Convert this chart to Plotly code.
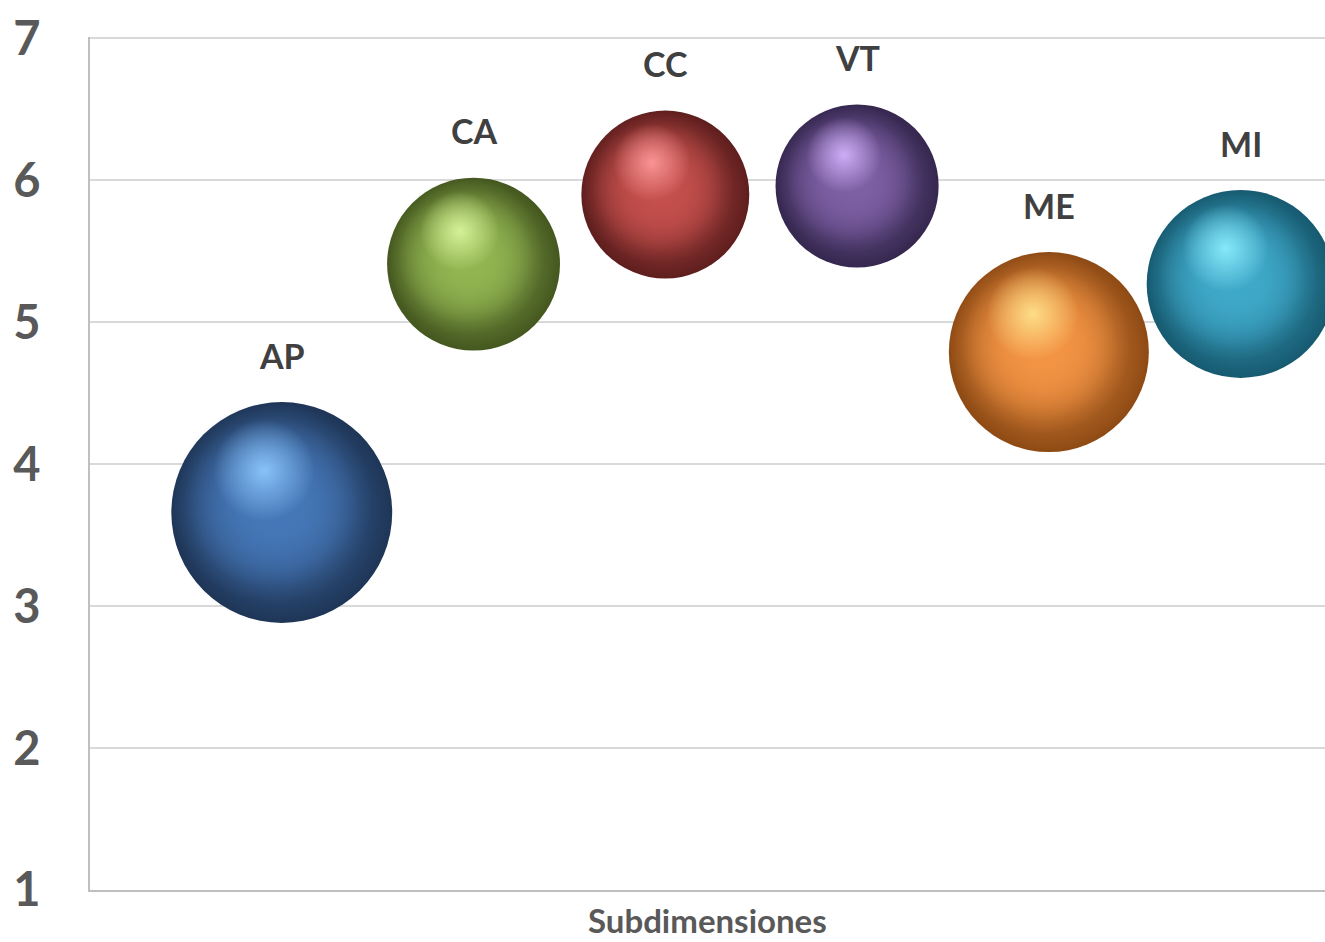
import numpy as np
import plotly.graph_objects as go

# ---- data ----
categories = ["AP", "CA", "CC", "VT", "ME", "MI"]
x_index = [1, 2, 3, 4, 5, 6]
means = [3.66, 5.41, 5.90, 5.96, 4.79, 5.27]
bubble_sizes = [4.88, 2.99, 2.82, 2.66, 4.00, 3.53]
y_ticks = [1, 2, 3, 4, 5, 6, 7]
x_title = "Subdimensiones"

# ---- styles ----
base_colors = ["#4577B8", "#92B551", "#C44F4C", "#7D5FA4", "#F39444", "#3FA9CA"]
edge_colors = ["#1E3556", "#44571F", "#5E1E1D", "#35274F", "#8E4A14", "#165A70"]
hl_colors = ["#8FCBFF", "#DDF8A0", "#FF9C9C", "#D6B6FF", "#FFE690", "#90F0FF"]

W, H = 1325, 942
M = dict(l=90, r=0, t=37, b=52)
x_range = [0, 6.44]
y_range = [1, 7.01]
px_x = (W - M["l"] - M["r"]) / (x_range[1] - x_range[0])
px_y = (H - M["t"] - M["b"]) / (y_range[1] - y_range[0])

diam = 100 * np.sqrt(np.array(bubble_sizes))
xs = np.array(x_index, dtype=float)
ys = np.array(means, dtype=float)


def rgba(h, a):
    h = h.lstrip("#")
    r, g, b = int(h[0:2], 16), int(h[2:4], 16), int(h[4:6], 16)
    return f"rgba({r},{g},{b},{a})"


fig = go.Figure()

# sphere body: base colour in the centre, dark toward the rim
fig.add_trace(go.Scatter(
    x=xs, y=ys, mode="markers", hoverinfo="skip",
    marker=dict(size=diam, sizemode="diameter", color=edge_colors,
                gradient=dict(type="radial", color=base_colors),
                line=dict(width=0), opacity=1),
    showlegend=False))

# lit face, shifted up-left so the shadow sits on the lower right
fx = xs - 0.045 * diam / px_x
fy = ys + 0.045 * diam / px_y
for frac in (0.91, 0.78):
    fig.add_trace(go.Scatter(
        x=fx, y=fy, mode="markers", hoverinfo="skip",
        marker=dict(size=diam * frac, color=[rgba(c, 0) for c in base_colors],
                    gradient=dict(type="radial", color=base_colors),
                    line=dict(width=0), opacity=1),
        showlegend=False))

# specular highlight, offset up-left
hx = xs - 0.08 * diam / px_x
hy = ys + 0.19 * diam / px_y
fig.add_trace(go.Scatter(
    x=hx, y=hy, mode="markers", hoverinfo="skip",
    marker=dict(size=diam * 0.46, color=[rgba(c, 0) for c in hl_colors],
                gradient=dict(type="radial", color=[rgba(c, 0.9) for c in hl_colors]),
                line=dict(width=0), opacity=1),
    showlegend=False))

# labels above the bubbles
for xi, yi, d, lab in zip(x_index, means, diam, categories):
    fig.add_annotation(x=xi, y=yi, text=f"<b>{lab}</b>", showarrow=False,
                       yshift=d / 2 + 47, yanchor="middle", xanchor="center",
                       font=dict(family="Lato", size=34, color="#404040"))

# x-axis title, resting on the bottom edge of the page
fig.add_annotation(x=0.5, y=0, xref="paper", yref="paper", text=f"<b>{x_title}</b>",
                   showarrow=False, yshift=-(M["b"] - 1), yanchor="bottom", xanchor="center",
                   borderpad=0,
                   font=dict(family="Lato", size=33, color="#595959"))

fig.update_layout(
    width=W, height=H, margin=M,
    paper_bgcolor="white", plot_bgcolor="white",
    showlegend=False,
    font=dict(family="Lato"),
)
fig.update_xaxes(
    range=x_range, showgrid=False, zeroline=False, showticklabels=False,
    showline=True, linecolor="#BFBFBF", linewidth=2, ticks="",
    automargin=False,
)
fig.update_yaxes(
    range=y_range, tickvals=y_ticks, ticktext=[f"<b>{v}</b>" for v in y_ticks],
    tickfont=dict(family="Lato", size=47, color="#595959"),
    showgrid=True, gridcolor="#D9D9D9", gridwidth=2, zeroline=False,
    showline=True, linecolor="#BFBFBF", linewidth=2, ticks="",
    ticklabelstandoff=38, automargin=False,
)

fig.write_html("out.html")
